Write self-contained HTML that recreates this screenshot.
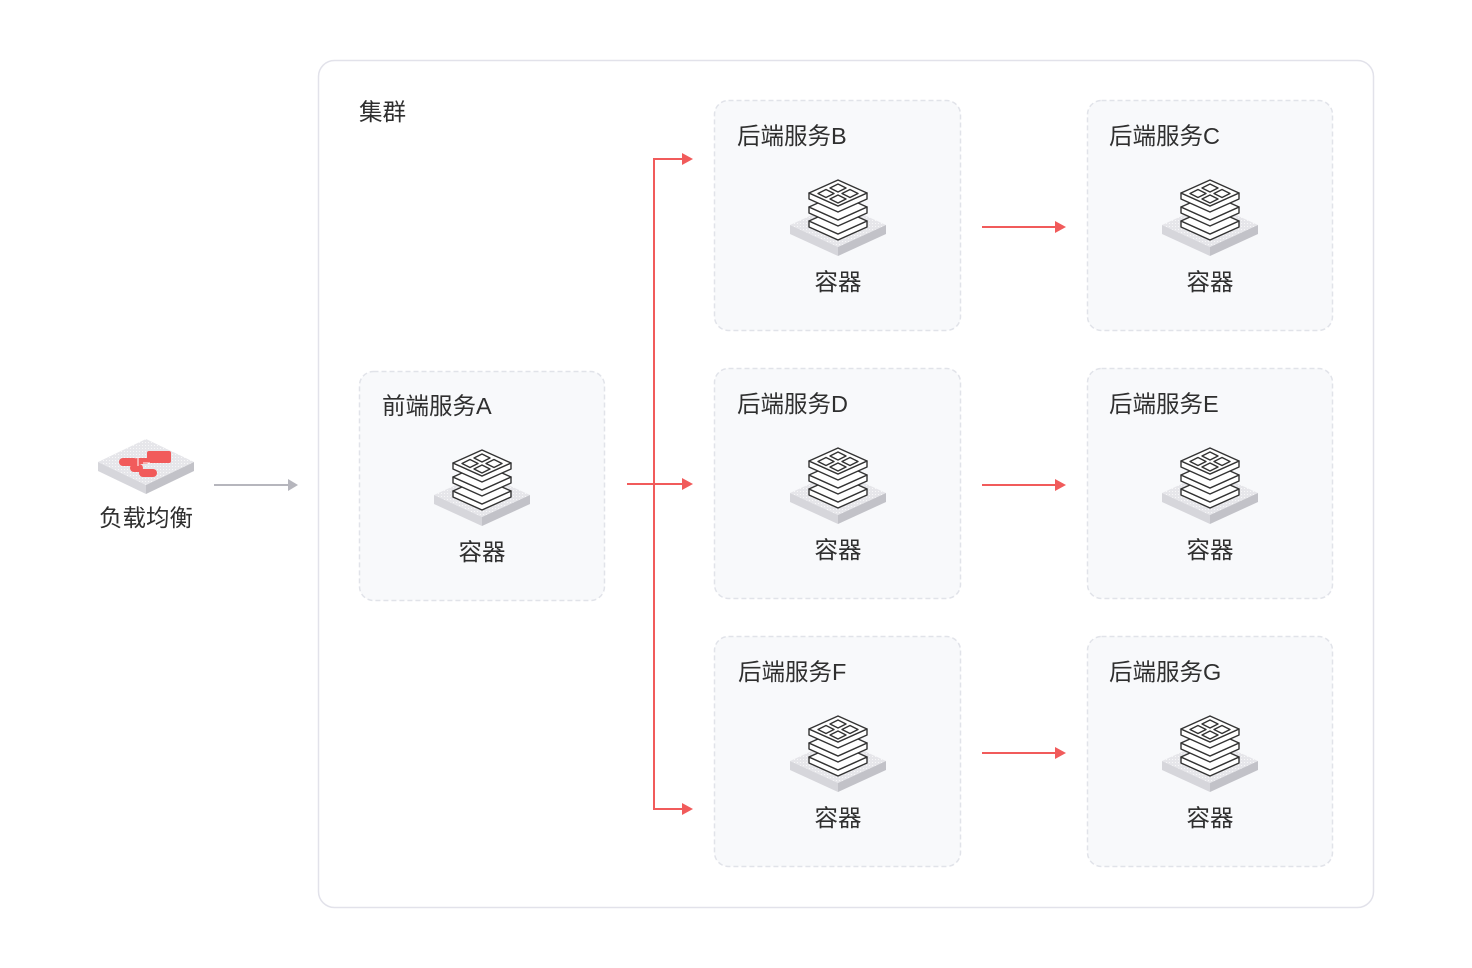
<!DOCTYPE html>
<html><head><meta charset="utf-8"><style>
html,body{margin:0;padding:0;background:#fff;}
svg{display:block;}
text{font-family:"Liberation Sans","Noto Sans CJK SC",sans-serif;fill:#2f2f2f;}
</style></head><body>
<svg width="1472" height="968" viewBox="0 0 1472 968" xmlns="http://www.w3.org/2000/svg">
<defs>
<pattern id="dots" width="3" height="3" patternUnits="userSpaceOnUse">
<rect width="3" height="3" fill="#e6e6ea"/><rect x="1" y="1" width="1" height="1" fill="#f7f7f8"/>
</pattern>
<g id="cont">
  <polygon points="-48,45 0,23 48,45 0,67" fill="url(#dots)"/>
  <polygon points="-48,45 0,67 0,76 -48,54" fill="#d6d6db"/>
  <polygon points="48,45 0,67 0,76 48,54" fill="#c2c2c8"/>
  <g stroke="#333" stroke-width="1.4" stroke-linejoin="round" fill="#fff">
    <g transform="translate(0,28)">
      <path d="M-29,13 L-29,19 L0,32 L29,19 L29,13 L0,26 Z"/>
      <polygon points="-29,13 0,0 29,13 0,26"/>
    </g>
    <g transform="translate(0,14)">
      <path d="M-29,13 L-29,19 L0,32 L29,19 L29,13 L0,26 Z"/>
      <polygon points="-29,13 0,0 29,13 0,26"/>
    </g>
    <g>
      <path d="M-29,13 L-29,19 L0,32 L29,19 L29,13 L0,26 Z"/>
      <polygon points="-29,13 0,0 29,13 0,26"/>
      <polygon points="-8,8 0,4 8,8 0,12"/>
      <polygon points="-20,13.5 -12,9.5 -4,13.5 -12,17.5"/>
      <polygon points="4,13.5 12,9.5 20,13.5 12,17.5"/>
      <polygon points="-8,19 0,15 8,19 0,23"/>
    </g>
  </g>
</g>
</defs>

<rect x="318.5" y="60.5" width="1055" height="847" rx="16" ry="16" fill="#fff" stroke="#e2e2ea" stroke-width="1.5"/>
<text x="359" y="120" font-size="23.5">集群</text>

<g fill="#f8f9fb" stroke="#e1e3e9" stroke-width="1.5" stroke-dasharray="5 3">
  <rect x="359.5" y="371.5" width="245" height="229" rx="14"/>
  <rect x="714.5" y="100.5" width="246" height="230" rx="14"/>
  <rect x="1087.5" y="100.5" width="245" height="230" rx="14"/>
  <rect x="714.5" y="368.5" width="246" height="230" rx="14"/>
  <rect x="1087.5" y="368.5" width="245" height="230" rx="14"/>
  <rect x="714.5" y="636.5" width="246" height="230" rx="14"/>
  <rect x="1087.5" y="636.5" width="245" height="230" rx="14"/>
</g>

<g font-size="23.5">
  <text x="382" y="414">前端服务A</text>
  <text x="737" y="144">后端服务B</text>
  <text x="1109" y="144">后端服务C</text>
  <text x="737" y="412">后端服务D</text>
  <text x="1109" y="412">后端服务E</text>
  <text x="738" y="680">后端服务F</text>
  <text x="1109" y="680">后端服务G</text>
</g>

<use href="#cont" x="482" y="450"/>
<use href="#cont" x="838" y="180"/>
<use href="#cont" x="1210" y="180"/>
<use href="#cont" x="838" y="448"/>
<use href="#cont" x="1210" y="448"/>
<use href="#cont" x="838" y="716"/>
<use href="#cont" x="1210" y="716"/>

<g font-size="23.5" text-anchor="middle">
  <text x="482" y="560">容器</text>
  <text x="838" y="290">容器</text>
  <text x="1210" y="290">容器</text>
  <text x="838" y="558">容器</text>
  <text x="1210" y="558">容器</text>
  <text x="838" y="826">容器</text>
  <text x="1210" y="826">容器</text>
</g>

<g stroke="#f15b5b" stroke-width="2" fill="none">
  <path d="M683,159 L654,159 L654,809 L683,809"/>
  <path d="M627,484 L683,484"/>
  <path d="M982,227 L1056,227"/>
  <path d="M982,485 L1056,485"/>
  <path d="M982,753 L1056,753"/>
</g>
<g fill="#f15b5b">
  <polygon points="682,153 693,159 682,165"/>
  <polygon points="682,478 693,484 682,490"/>
  <polygon points="682,803 693,809 682,815"/>
  <polygon points="1055,221 1066,227 1055,233"/>
  <polygon points="1055,479 1066,485 1055,491"/>
  <polygon points="1055,747 1066,753 1055,759"/>
</g>

<!-- load balancer -->
<g>
  <polygon points="98,462 146,439 194,462 146,485" fill="url(#dots)"/>
  <polygon points="98,462 146,485 146,494 98,471" fill="#d6d6db"/>
  <polygon points="194,462 146,485 146,494 194,471" fill="#c2c2c8"/>
  <g fill="#f15b5b">
    <rect x="147" y="451" width="24" height="12" rx="2"/>
    <rect x="119" y="458" width="19" height="8" rx="4"/>
    <rect x="130" y="464" width="13" height="8" rx="4"/>
    <rect x="139" y="469" width="18" height="8" rx="4"/>
    <rect x="136" y="458" width="12" height="6" rx="1"/>
  </g>
  <g stroke="#fff" stroke-width="1" fill="none">
    <path d="M138,457 L138,466"/>
    <path d="M143,463 L150,463"/>
  </g>
</g>
<text x="146" y="526" font-size="23.5" text-anchor="middle">负载均衡</text>

<path d="M214,485 L289,485" stroke="#b6b6bd" stroke-width="2"/>
<polygon points="288,479 298,485 288,491" fill="#b6b6bd"/>
</svg>
</body></html>
